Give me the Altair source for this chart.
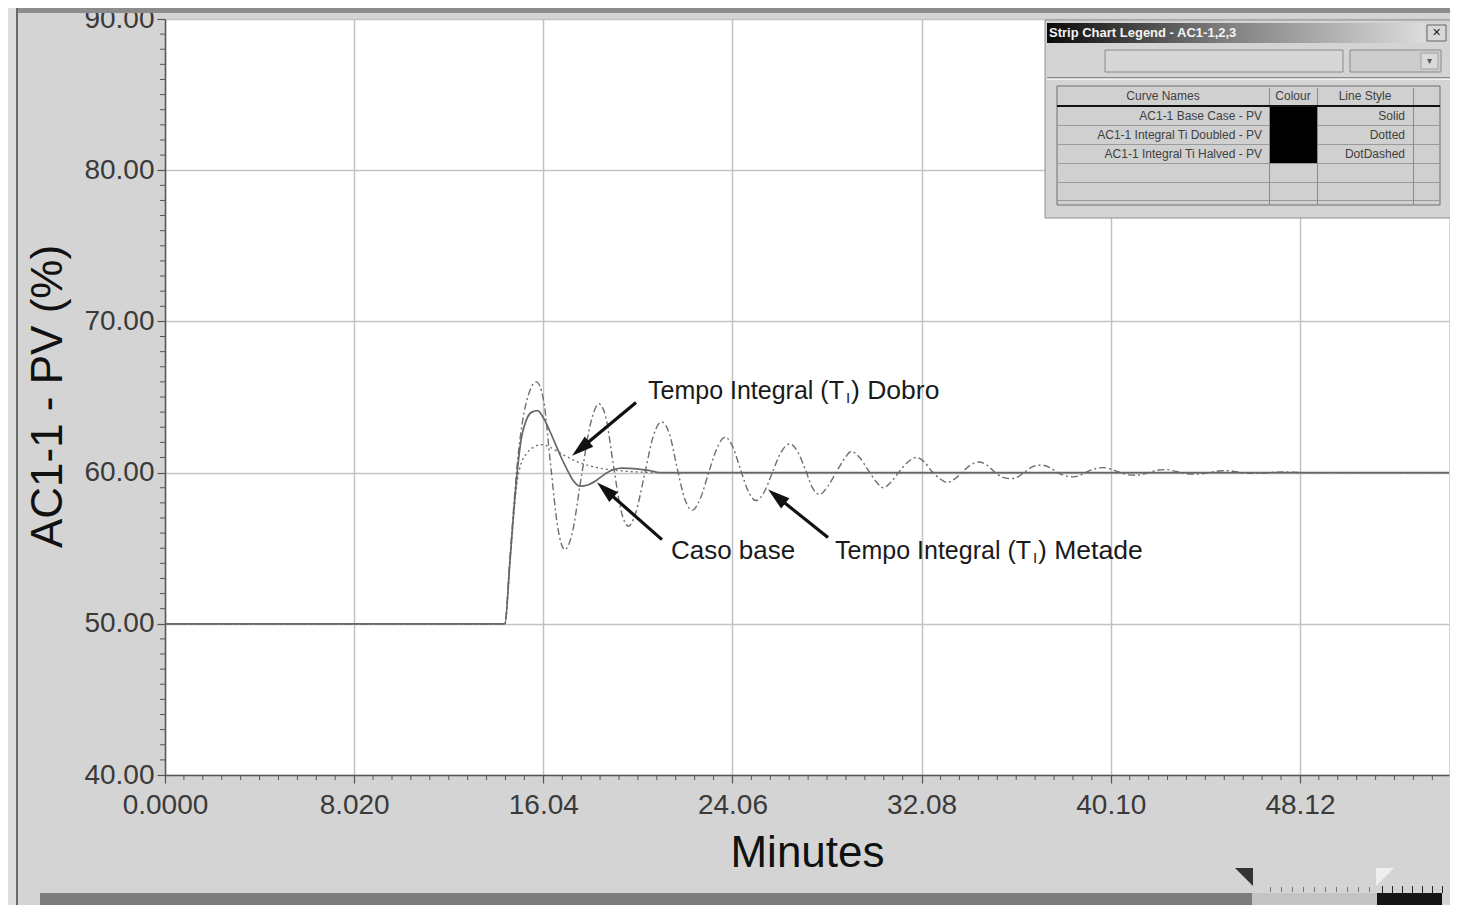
import math
import altair as alt
import pandas as pd

# ---------------- data ----------------
base_t = [0.0, 14.41, 14.62, 14.80, 14.95, 15.10, 15.30, 15.55, 15.80, 16.05, 16.30, 16.55, 16.80,
          17.05, 17.30, 17.60, 17.95, 18.30, 18.65, 19.00, 19.40, 20.00, 20.50, 21.00, 54.44]
base_v = [50.0, 50.0, 54.0, 57.7, 60.3, 62.2, 63.4, 64.0, 64.1, 63.6, 62.8, 61.9, 61.0,
          60.2, 59.5, 59.1, 59.2, 59.5, 59.9, 60.2, 60.3, 60.25, 60.15, 60.0, 60.0]

doubled_t = [0.0, 14.41, 14.62, 14.80, 14.95, 15.10, 15.35, 15.65, 15.95, 16.30, 16.70, 17.10,
             17.50, 18.00, 18.60, 19.30, 20.20, 21.00, 54.44]
doubled_v = [50.0, 50.0, 54.0, 57.5, 59.6, 60.6, 61.3, 61.7, 61.85, 61.7, 61.35, 61.0,
             60.7, 60.45, 60.25, 60.12, 60.03, 60.0, 60.0]

halved_t = [0.0, 14.41, 14.62, 14.80, 14.95, 15.15, 15.40, 15.75, 16.05, 16.35,
            16.65, 16.95, 17.25, 17.65, 18.05, 18.40, 18.70, 19.00, 19.35, 19.65,
            19.95, 20.35, 20.70, 21.05, 21.40, 21.70, 22.05, 22.35, 22.70, 23.05,
            23.40, 23.75, 24.10, 24.40, 24.75, 25.05, 25.40, 25.75, 26.10, 26.50,
            26.85, 27.15, 27.45, 27.75, 28.10, 28.45, 28.80, 29.10, 29.45, 29.80,
            30.15, 30.45, 30.80, 31.15, 31.50, 31.85, 32.20, 32.50, 32.85, 33.15,
            33.50, 33.85, 34.15, 34.50, 34.85, 35.20, 35.50, 35.85, 36.20, 36.50,
            36.80, 37.15, 37.50, 37.85, 38.15, 38.50, 38.85, 39.15, 39.50, 39.80,
            40.15, 40.50, 40.85, 41.15, 41.50, 41.80, 42.10, 42.45, 42.80, 43.15,
            43.50, 43.80, 44.15, 44.45, 44.80, 45.10, 45.45, 45.80, 46.10, 46.45,
            46.80, 47.50, 48.20, 54.44]
halved_v = [50.0, 50.0, 54.2, 58.0, 60.8, 63.3, 65.1, 66.0, 64.8, 60.5,
            56.4, 54.9, 55.9, 59.7, 63.3, 64.55, 63.6, 60.6, 57.4, 56.45,
            57.3, 60.0, 62.4, 63.35, 62.5, 60.4, 58.2, 57.5, 58.3, 60.0,
            61.6, 62.35, 61.6, 60.2, 58.7, 58.15, 58.7, 60.0, 61.3, 61.9,
            61.3, 60.2, 59.0, 58.55, 59.1, 60.0, 60.9, 61.4, 61.0, 60.2,
            59.4, 59.0, 59.4, 60.1, 60.7, 61.0, 60.7, 60.1, 59.6, 59.35,
            59.6, 60.1, 60.5, 60.7, 60.5, 60.0, 59.7, 59.6, 59.75, 60.1,
            60.4, 60.5, 60.35, 60.0, 59.8, 59.72, 59.85, 60.1, 60.28, 60.33,
            60.2, 60.0, 59.85, 59.82, 59.9, 60.05, 60.17, 60.2, 60.1, 59.98,
            59.9, 59.9, 59.97, 60.06, 60.12, 60.12, 60.05, 59.98, 59.95, 59.95,
            60.0, 60.05, 60.0, 60.0]

x_ticks = [0.0, 8.02, 16.04, 24.06, 32.08, 40.10, 48.12]
y_ticks = [40, 50, 60, 70, 80, 90]
X_MAX = 54.44
Y_MIN, Y_MAX = 40, 90

# annotations (label anchor, arrow start, arrow tip)
ann_main = ["Tempo Integral (T", "Caso base", "Tempo Integral (T"]
ann_sub = ["I", "", "I"]
ann_tail = [") Dobro", "", ") Metade"]
ann_t = [20.48, 21.45, 28.41]
ann_v = [65.42, 54.84, 54.84]
arrow_t0 = [19.97, 21.07, 28.11]
arrow_v0 = [64.63, 55.57, 55.70]
arrow_t1 = [17.26, 18.32, 25.57]
arrow_v1 = [61.12, 59.34, 58.88]

legend_names = ["AC1-1 Base Case - PV", "AC1-1 Integral Ti  Doubled - PV", "AC1-1 Integral Ti Halved - PV"]
legend_styles = ["Solid", "Dotted", "DotDashed"]

# ---------------- layout ----------------
W, H = 1284, 756
PAD_L, PAD_T = 157, 11
PX_T = W / X_MAX
PX_V = H / (Y_MAX - Y_MIN)
FONT = "Liberation Sans"

xs = alt.Scale(domain=[0, X_MAX], nice=False, zero=False)
ys = alt.Scale(domain=[Y_MIN, Y_MAX], nice=False, zero=False)


def series(ts, vs):
    return pd.DataFrame({"t": ts, "v": vs})


x_axis = alt.Axis(values=x_ticks, labelExpr="datum.value == 0 ? '0.0000' : (datum.value < 10 ? format(datum.value, '.3f') : format(datum.value, '.2f'))",
                  tickSize=8, tickColor="#555", domainColor="#555", domainWidth=1.5, tickWidth=1.2,
                  labelFont=FONT, labelFontSize=28, labelColor="#3a3a3a", labelPadding=8,
                  labelOverlap=False, labelFlush=False,
                  grid=True, gridColor="#c2c2c2", gridWidth=1.5,
                  title="Minutes", titleFont=FONT, titleFontSize=44, titleFontWeight="normal",
                  titleColor="#111", titleX=W / 2, titleY=78, titleBaseline="middle", titleAlign="center")
y_axis = alt.Axis(values=y_ticks, format=".2f",
                  tickSize=8, tickColor="#555", domainColor="#555", domainWidth=1.5, tickWidth=1.2,
                  labelFont=FONT, labelFontSize=28, labelColor="#3a3a3a", labelPadding=3,
                  labelOverlap=False, labelFlush=False,
                  grid=True, gridColor="#c2c2c2", gridWidth=1.5,
                  title="AC1-1 - PV (%)", titleFont=FONT, titleFontSize=44, titleFontWeight="normal",
                  titleColor="#111", titleX=-117, titleY=377, titleAngle=270,
                  titleBaseline="middle", titleAlign="center")


def X(field):
    return alt.X(field, scale=xs, axis=x_axis)


def Y(field):
    return alt.Y(field, scale=ys, axis=y_axis)


halved = alt.Chart(series(halved_t, halved_v)).mark_line(
    color="#6e6e6e", strokeWidth=1.4, strokeDash=[7, 3, 2, 3], interpolate="monotone"
).encode(x=X("t:Q"), y=Y("v:Q"))

doubled = alt.Chart(series(doubled_t, doubled_v)).mark_line(
    color="#6e6e6e", strokeWidth=1.4, strokeDash=[2, 3], interpolate="monotone"
).encode(x=X("t:Q"), y=Y("v:Q"))

base = alt.Chart(series(base_t, base_v)).mark_line(
    color="#666", strokeWidth=1.7, interpolate="monotone"
).encode(x=X("t:Q"), y=Y("v:Q"))

# minor ticks
minor_x = [round(i * 0.802, 3) for i in range(1, 68) if i % 10 != 0]
minor_y = [v for v in range(Y_MIN + 1, Y_MAX) if v % 10 != 0]
mx = alt.Chart(pd.DataFrame({"t": minor_x, "v": [Y_MIN] * len(minor_x)})).mark_rule(color="#555", strokeWidth=1).encode(
    x=X("t:Q"), y=Y("v:Q"), y2=alt.value(H + 5))
my = alt.Chart(pd.DataFrame({"v": minor_y, "t": [0.0] * len(minor_y)})).mark_rule(color="#555", strokeWidth=1).encode(
    y=Y("v:Q"), x=X("t:Q"), x2=alt.value(-5))

# arrows
shaft_t1, shaft_v1, angles = [], [], []
for t0, v0, t1, v1 in zip(arrow_t0, arrow_v0, arrow_t1, arrow_v1):
    dxp = (t1 - t0) * PX_T
    dyp = -(v1 - v0) * PX_V
    length = math.hypot(dxp, dyp)
    f = 1 - 12 / length
    shaft_t1.append(t0 + (t1 - t0) * f)
    shaft_v1.append(v0 + (v1 - v0) * f)
    angles.append(math.degrees(math.atan2(dxp, -dyp)) % 360)
arrows_df = pd.DataFrame({"t0": arrow_t0, "v0": arrow_v0, "t1": shaft_t1, "v1": shaft_v1,
                          "tt": arrow_t1, "vt": arrow_v1, "ang": angles})
shafts = alt.Chart(arrows_df).mark_rule(color="#111", strokeWidth=3.2).encode(
    x=X("t0:Q"), y=Y("v0:Q"), x2="t1:Q", y2="v1:Q")
heads = alt.Chart(arrows_df).mark_point(
    shape="M0,0 L0.6,2 L-0.6,2 Z", filled=True, color="#111", opacity=1, size=484, strokeWidth=0
).encode(x=X("tt:Q"), y=Y("vt:Q"), angle=alt.Angle("ang:Q", scale=None))

ann_df = pd.DataFrame({"t": ann_t, "v": ann_v, "main": ann_main, "sub": ann_sub, "tail": ann_tail,
                       "fs": [25, 26, 25]})
ann1 = alt.Chart(ann_df).mark_text(font=FONT, align="left", baseline="middle", color="#1a1a1a").encode(
    x=X("t:Q"), y=Y("v:Q"), text="main:N", size=alt.Size("fs:Q", scale=None))
ann2 = alt.Chart(ann_df).mark_text(font=FONT, fontSize=15, align="left", baseline="middle", color="#1a1a1a",
                                   dx=198, dy=7).encode(
    x=X("t:Q"), y=Y("v:Q"), text="sub:N")
ann3 = alt.Chart(ann_df).mark_text(font=FONT, fontSize=26.5, align="left", baseline="middle", color="#1a1a1a",
                                   dx=203).encode(
    x=X("t:Q"), y=Y("v:Q"), text="tail:N")

data_layers = alt.layer(halved, doubled, base, mx, my, shafts, heads, ann1, ann2, ann3)

# ---------------- window decorations (pixel positions, page coords) ----------------
def px(Xp):
    return Xp - 8 - PAD_L


def py(Yp):
    return Yp - 8 - PAD_T


rects = []


def R(x1, y1, x2, y2, fill, stroke="transparent"):
    rects.append({"x": px(x1), "x2": px(x2), "y": py(y1), "y2": py(y2), "fill": fill, "stroke": stroke})


# outer frame
R(8, 8, 16, 905, "#dedede")
R(16, 8, 1450, 13, "#8c8c8c")
R(16, 8, 18, 905, "#6a6a6a")
# legend window
R(1045, 20, 1452, 218, "#d4d4d4", "#8f8f8f")
R(1105, 50, 1343, 72, "#d6d6d6", "#8a8a8a")
R(1350, 50, 1441, 72, "#cdcdcd", "#8a8a8a")
R(1421, 53, 1438, 69, "#dadada", "#a0a0a0")
R(1427, 25, 1446, 41, "#d8d8d8", "#666")
R(1047, 77, 1450, 78, "#8a8a8a")
R(1047, 79, 1450, 80, "#f2f2f2")
R(1057, 86, 1440, 205, "#d0d0d0", "#6f6f6f")
for yy in [125, 144, 163, 182, 200]:
    R(1057, yy, 1440, yy + 1, "#9a9a9a")
for xx in [1269, 1317, 1413]:
    R(xx, 88, xx + 1, 204, "#8a8a8a")
R(1057, 105, 1440, 107, "#111")
R(1270, 107, 1317, 163, "#000")
# scrollbar
R(40, 893, 1252, 905, "#7d7d7d")
R(1252, 893, 1377, 905, "#c4c4c4")
R(1377, 893, 1442, 905, "#151515")
for xx in range(1270, 1372, 11):
    R(xx, 887, xx + 1, 892, "#777")
for xx in range(1382, 1444, 10):
    R(xx, 886, xx + 1, 893, "#222")

rect_df = pd.DataFrame(rects)
deco_rects = alt.Chart(rect_df).mark_rect(strokeWidth=1).encode(
    x=alt.X("x:Q", scale=None), x2="x2:Q", y=alt.Y("y:Q", scale=None), y2="y2:Q",
    fill=alt.Fill("fill:N", scale=None), stroke=alt.Stroke("stroke:N", scale=None))

title_bar = alt.Chart(pd.DataFrame({"a": [1]})).mark_rect(
    fill=alt.Gradient(gradient="linear", x1=0, x2=1, y1=0, y2=0,
                      stops=[alt.GradientStop(offset=0, color="#0a0a0a"),
                             alt.GradientStop(offset=0.45, color="#7a7a7a"),
                             alt.GradientStop(offset=1, color="#dcdcdc")])
).encode(x=alt.value(px(1047)), x2=alt.value(px(1425)), y=alt.value(py(23)), y2=alt.value(py(43)))

tri_df = pd.DataFrame({"x": [px(1244), px(1385)], "y": [py(877), py(877)],
                       "shape": ["M-1,-1 L1,-1 L1,1 Z", "M-1,-1 L1,-1 L-1,1 Z"],
                       "c": ["#333", "#eeeeee"]})
tris = alt.Chart(tri_df).mark_point(filled=True, opacity=1, size=324, strokeWidth=0).encode(
    x=alt.X("x:Q", scale=None), y=alt.Y("y:Q", scale=None),
    shape=alt.Shape("shape:N", scale=None), fill=alt.Fill("c:N", scale=None))

texts_center, texts_right = [], []
texts_center += [{"x": px(1163), "y": py(96), "text": "Curve Names"},
                 {"x": px(1293), "y": py(96), "text": "Colour"},
                 {"x": px(1365), "y": py(96), "text": "Line Style"}]
for i, (nm, st) in enumerate(zip(legend_names, legend_styles)):
    yy = 116 + 19 * i
    texts_right.append({"x": px(1262), "y": py(yy), "text": nm})
    texts_right.append({"x": px(1405), "y": py(yy), "text": st})


def text_layer(rows, align):
    return alt.Chart(pd.DataFrame(rows)).mark_text(
        font=FONT, fontSize=12, align=align, baseline="middle", color="#404040"
    ).encode(x=alt.X("x:Q", scale=None), y=alt.Y("y:Q", scale=None), text="text:N")


win_title = alt.Chart(pd.DataFrame({"x": [px(1049)], "y": [py(33)], "text": ["Strip Chart Legend - AC1-1,2,3"]})).mark_text(
    font=FONT, fontSize=13, fontWeight="bold", align="left", baseline="middle", color="#f4f4f4"
).encode(x=alt.X("x:Q", scale=None), y=alt.Y("y:Q", scale=None), text="text:N")
close_x = alt.Chart(pd.DataFrame({"x": [px(1436.5)], "y": [py(33)], "text": ["✕"]})).mark_text(
    font="DejaVu Sans", fontSize=11, fontWeight="bold", align="center", baseline="middle", color="#222"
).encode(x=alt.X("x:Q", scale=None), y=alt.Y("y:Q", scale=None), text="text:N")
drop_arrow = alt.Chart(pd.DataFrame({"x": [px(1429.5)], "y": [py(61)], "text": ["▾"]})).mark_text(
    font="DejaVu Sans", fontSize=10, align="center", baseline="middle", color="#555"
).encode(x=alt.X("x:Q", scale=None), y=alt.Y("y:Q", scale=None), text="text:N")

deco_layers = alt.layer(deco_rects, title_bar, tris, win_title, close_x, drop_arrow,
                        text_layer(texts_center, "center"), text_layer(texts_right, "right"))

chart = alt.layer(data_layers, deco_layers).resolve_axis(
    x="independent", y="independent"
).properties(
    width=W, height=H,
    background="#d4d4d4",
    padding={"left": PAD_L, "top": PAD_T, "right": 1, "bottom": 130},
    autosize=alt.AutoSizeParams(type="none"),
).configure_view(fill="white", strokeWidth=0)

chart.save("out.html", embed_options={"renderer": "svg", "actions": False})
